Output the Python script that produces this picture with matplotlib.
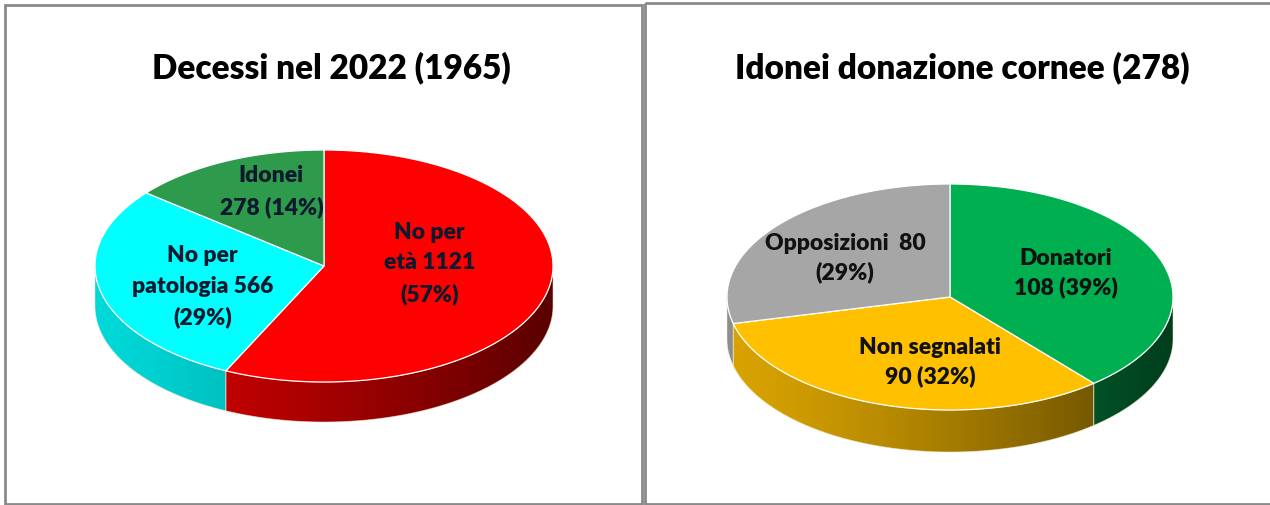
import numpy as np
import matplotlib
matplotlib.use('Agg')
import matplotlib.pyplot as plt
from matplotlib.patches import Polygon, Rectangle

# dati
left_title = 'Decessi nel 2022 (1965)'
left_values = [1121, 566, 278]
left_fmt = ['No per\netà {v}\n({p}%)', 'No per\npatologia {v}\n({p}%)', 'Idonei\n{v} ({p}%)']
left_colors = ['#FF0000', '#00FFFF', '#2E9A4C']

right_title = 'Idonei donazione cornee (278)'
right_values = [108, 90, 80]
right_fmt = ['Donatori\n{v} ({p}%)', 'Non segnalati\n{v} ({p}%)', 'Opposizioni  {v}\n({p}%)']
right_colors = ['#00B050', '#FFC000', '#A6A6A6']

# posizione etichette (frazioni di rx, ry dal centro)
left_lab_pos = [(0.46, -0.03), (-0.53, 0.17), (-0.23, -0.65)]
right_lab_pos = [(0.52, -0.22), (-0.09, 0.57), (-0.47, -0.35)]

FONT = 'Lato'


def shade(color, f):
    c = np.array(matplotlib.colors.to_rgb(color))
    return np.clip(c * f, 0, 1)


def pie3d(ax, values, colors, fmt, lab_pos, cx, cy, rx, ry, depth, txtcolor, lsp):
    values = np.array(values, dtype=float)
    frac = values / values.sum()
    cum = np.concatenate([[0], np.cumsum(frac)])
    pt = lambda th: (cx + rx * np.cos(th), cy - ry * np.sin(th))

    # fianco (solo la parte frontale, angoli tra -180 e 0)
    for i in range(len(values)):
        a0 = np.pi / 2 - 2 * np.pi * cum[i]
        a1 = np.pi / 2 - 2 * np.pi * cum[i + 1]
        hi = min(a0, 0.0)
        lo = max(a1, -np.pi)
        if hi <= lo:
            continue
        th = np.linspace(hi, lo, 120)
        xs, ys = pt(th)
        pts = np.concatenate([np.c_[xs, ys], np.c_[xs[::-1], ys[::-1] + depth]])
        patch = Polygon(pts, closed=True, facecolor='none', edgecolor='none')
        ax.add_patch(patch)
        t = np.linspace(0, 1, 400)
        fac = 0.85 - 0.5 * t ** 1.3
        img = np.array([shade(colors[i], f) for f in fac])[None, :, :]
        im = ax.imshow(img, extent=(cx - rx, cx + rx, cy + ry + depth, cy - ry),
                       aspect='auto', interpolation='bilinear', zorder=2)
        im.set_clip_path(patch)
        # contorno sottile
        ax.add_patch(Polygon(pts, closed=True, facecolor='none',
                             edgecolor='#f4e6d0', lw=0.6, alpha=0.6, zorder=3))

    # faccia superiore
    for i in range(len(values)):
        a0 = np.pi / 2 - 2 * np.pi * cum[i]
        a1 = np.pi / 2 - 2 * np.pi * cum[i + 1]
        th = np.linspace(a0, a1, 200)
        xs, ys = pt(th)
        pts = np.vstack([[cx, cy], np.c_[xs, ys]])
        ax.add_patch(Polygon(pts, closed=True, facecolor=colors[i],
                             edgecolor='#ffffff', lw=0.9, alpha=1, zorder=4))

    # etichette
    for i, v in enumerate(values):
        p = int(round(100 * frac[i]))
        s = fmt[i].format(v=int(v), p=p)
        fx, fy = lab_pos[i]
        ax.text(cx + fx * rx, cy + fy * ry, s, ha='center', va='center',
                multialignment='center', fontsize=16.5, fontweight='heavy',
                family=FONT, color=txtcolor, linespacing=lsp, zorder=6)


fig = plt.figure(figsize=(12.7, 5.06), dpi=100)
ax = fig.add_axes([0, 0, 1, 1])

# cornici dei pannelli
ax.add_patch(Rectangle((5, 5.5), 637, 499, facecolor='none', edgecolor='#8a8a8a', lw=2.0, zorder=1))
ax.add_patch(Rectangle((644.5, 3.5), 640, 501, facecolor='none', edgecolor='#8a8a8a', lw=2.0, zorder=1))

pie3d(ax, left_values, left_colors, left_fmt, left_lab_pos,
      324, 267, 229, 116, 40, '#0d1a2e', 1.55)
pie3d(ax, right_values, right_colors, right_fmt, right_lab_pos,
      950, 298, 223, 113, 42, '#111111', 1.42)

ax.text(331, 68, left_title, ha='center', va='center', fontsize=24,
        fontweight='heavy', family=FONT, color='black')
ax.text(962, 68, right_title, ha='center', va='center', fontsize=24,
        fontweight='heavy', family=FONT, color='black')

ax.set_xlim(0, 1270)
ax.set_ylim(506, 0)
ax.axis('off')

plt.savefig('out.png', dpi=100)
